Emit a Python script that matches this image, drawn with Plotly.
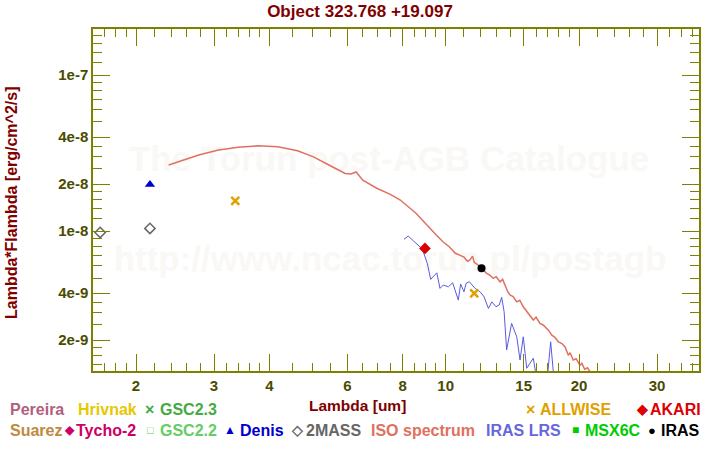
import plotly.graph_objects as go

# ISO spectrum (um, erg/cm^2/s)
iso_wl = [2.37, 2.50, 2.77, 3.07, 3.40, 3.77, 4.18, 4.63, 5.03, 5.45, 5.93, 6.11, 6.28, 6.50,
          6.99, 7.50, 7.90, 8.57, 9.12, 9.50, 9.86, 10.2, 10.5, 10.8, 11.0, 11.2, 11.35, 11.5,
          11.6, 11.8, 12.05, 12.2, 12.38, 12.6, 12.81, 13.0, 13.27, 13.45, 13.61, 13.8, 13.97,
          14.2, 14.47, 14.7, 14.97, 15.2, 15.50, 15.77, 16.0, 16.33, 16.6, 16.90, 17.1, 17.36,
          17.6, 17.97, 18.3, 18.60, 18.92, 19.1, 19.41, 19.7, 20.1, 20.3, 20.6, 20.9, 21.2]
iso_f = [2.65e-8, 2.78e-8, 3.07e-8, 3.31e-8, 3.44e-8, 3.52e-8, 3.47e-8, 3.27e-8, 2.99e-8,
         2.65e-8, 2.34e-8, 2.32e-8, 2.39e-8, 2.12e-8, 1.88e-8, 1.72e-8, 1.58e-8, 1.30e-8,
         1.066e-8, 9.5e-9, 8.54e-9, 7.9e-9, 7.23e-9, 7.0e-9, 6.8e-9, 6.4e-9, 6.52e-9, 6.9e-9,
         6.3e-9, 6.1e-9, 5.77e-9, 5.6e-9, 5.36e-9, 5.2e-9, 4.97e-9, 5.1e-9, 4.73e-9, 4.9e-9,
         4.51e-9, 4.1e-9, 3.89e-9, 3.8e-9, 3.52e-9, 3.6e-9, 3.27e-9, 3.1e-9, 2.90e-9, 2.69e-9,
         2.8e-9, 2.56e-9, 2.5e-9, 2.38e-9, 2.3e-9, 2.15e-9, 2.1e-9, 1.95e-9, 1.9e-9, 1.81e-9,
         1.60e-9, 1.66e-9, 1.49e-9, 1.52e-9, 1.38e-9, 1.42e-9, 1.30e-9, 1.33e-9, 1.25e-9]

# IRAS LRS
lrs_wl = [8.05, 8.23, 8.45, 8.75, 8.90, 9.09, 9.25, 9.55, 9.71, 9.88, 10.14, 10.37, 10.68,
          10.81, 11.0, 11.12, 11.31, 11.65, 11.96, 12.21, 12.49, 12.71, 12.99, 13.21, 13.38,
          13.55, 13.73, 14.09, 14.47, 14.72, 14.97, 15.24, 15.77, 16.07, 16.94, 17.26, 17.57]
lrs_f = [8.85e-9, 9.29e-9, 8.67e-9, 7.93e-9, 7.37e-9, 6.21e-9, 4.90e-9, 5.40e-9, 4.29e-9,
         4.51e-9, 4.39e-9, 4.66e-9, 3.61e-9, 4.57e-9, 4.08e-9, 4.62e-9, 4.73e-9, 4.29e-9,
         4.08e-9, 3.79e-9, 3.19e-9, 3.52e-9, 3.27e-9, 3.36e-9, 3.76e-9, 3.04e-9, 1.73e-9,
         2.56e-9, 2.10e-9, 1.49e-9, 2.10e-9, 1.32e-9, 1.53e-9, 1.1e-9, 1.1e-9, 1.95e-9, 1.1e-9]

# photometry
mass_wl = [1.66, 2.15]
mass_f = [0.98e-8, 1.04e-8]
denis_wl = [2.15]
denis_f = [1.99e-8]
allwise_wl = [3.35, 11.6]
allwise_f = [1.56e-8, 3.99e-9]
akari_wl = [8.98]
akari_f = [7.74e-9]
iras_wl = [12.05]
iras_f = [5.77e-9]

xtick_vals = [2, 3, 4, 6, 8, 10, 15, 20, 30]
xminor_vals = [1.6, 1.7, 1.8, 1.9, 2.2, 2.4, 2.6, 2.8, 3.2, 3.4, 3.6, 3.8, 4.5, 5, 5.5, 6.5,
               7, 7.5, 8.5, 9, 9.5, 11, 12, 13, 14, 16, 17, 18, 19, 22, 24, 26, 28, 32, 34, 36]
ytick_vals = [1e-7, 4e-8, 2e-8, 1e-8, 4e-9, 2e-9]
ytick_text = ['1e-7', '4e-8', '2e-8', '1e-8', '4e-9', '2e-9']
yminor_vals = [1.2e-7, 1.4e-7, 1.6e-7, 1.8e-7, 5e-8, 6e-8, 7e-8, 8e-8, 9e-8, 2.5e-8, 3e-8,
               3.5e-8, 1.2e-8, 1.4e-8, 1.6e-8, 1.8e-8, 5e-9, 6e-9, 7e-9, 8e-9, 9e-9, 2.5e-9,
               3e-9, 3.5e-9, 1.4e-9, 1.6e-9, 1.8e-9]

# background watermark lines
wm_text = ['The Torun post-AGB Catalogue', 'http://www.ncac.torun.pl/postagb']
wm_wl = [7.45, 7.49]
wm_f = [2.77e-8, 6.33e-9]

# legend labels
legend_names = ['Pereira', 'Hrivnak', 'GSC2.3', 'ALLWISE', 'AKARI',
                'Suarez', 'Tycho-2', 'GSC2.2', 'Denis', '2MASS', 'ISO spectrum', 'IRAS LRS',
                'MSX6C', 'IRAS']
legend_symbols = ['', '', '×', '×', '◆', '', '◆', '□', '▲', '◇', '', '', '■', '●']
legend_colors = ['#b06080', '#e6c800', '#44aa44', '#e0a000', '#dd0000',
                 '#c08840', '#cc0066', '#66cc66', '#0000cc', '#666666', '#e07060', '#6666dd',
                 '#00cc00', '#000000']
# (symbol centre x, text left x, row y, symbol size) in page pixels
legend_pos = [(None, 8, 409, 0), (None, 76, 409, 0), (149, 158, 409, 16), (530, 538, 409, 16),
              (642, 648, 409, 14), (None, 8, 430, 0), (69, 74, 430, 12), (150, 158, 430, 11),
              (230, 238, 430, 12), (297, 304, 430, 14), (None, 369, 430, 0), (None, 484, 430, 0),
              (575, 583, 430, 12), (652, 659, 430, 13)]

FONT = "Liberation Sans, Arial, sans-serif"
OLIVE = '#808000'

fig = go.Figure()
# watermark first so it sits under the data
fig.add_trace(go.Scatter(x=wm_wl, y=wm_f, mode='text', text=wm_text, hoverinfo='skip',
                         textfont=dict(family=FONT, size=35, color='#faf8f5', weight='bold')))
fig.add_trace(go.Scatter(x=iso_wl, y=iso_f, mode='lines', line=dict(color='#e07060', width=1.5)))
fig.add_trace(go.Scatter(x=lrs_wl, y=lrs_f, mode='lines', line=dict(color='#5a5ae0', width=1)))
fig.add_trace(go.Scatter(x=mass_wl, y=mass_f, mode='markers',
                         marker=dict(symbol='diamond-open', size=8, color='#666666', line=dict(width=1.5))))
fig.add_trace(go.Scatter(x=denis_wl, y=denis_f, mode='markers',
                         marker=dict(symbol='triangle-up', size=9, color='#0000cc')))
fig.add_trace(go.Scatter(x=allwise_wl, y=allwise_f, mode='markers',
                         marker=dict(symbol='x-thin-open', size=8, color='#e0a000', line=dict(width=2.5, color='#e0a000'))))
fig.add_trace(go.Scatter(x=akari_wl, y=akari_f, mode='markers',
                         marker=dict(symbol='diamond', size=9, color='#dd0000')))
fig.add_trace(go.Scatter(x=iras_wl, y=iras_f, mode='markers',
                         marker=dict(symbol='circle', size=8, color='#000000')))

axis_common = dict(type='log', showline=True, linecolor=OLIVE, linewidth=1.5, mirror='ticks',
                   ticks='inside', ticklen=17, tickwidth=1, tickcolor=OLIVE, showgrid=False,
                   zeroline=False, tickmode='array',
                   tickfont=dict(family=FONT, size=15, color='#4b4b00', weight='bold'))

fig.update_xaxes(range=[0.2039, 1.5719], tickvals=xtick_vals, ticktext=[str(v) for v in xtick_vals],
                 minor=dict(tickmode='array', tickvals=xminor_vals, ticks='inside', ticklen=8,
                            tickwidth=1, tickcolor=OLIVE),
                 **axis_common)
fig.update_yaxes(range=[-8.897, -6.705], tickvals=ytick_vals, ticktext=ytick_text,
                 minor=dict(tickmode='array', tickvals=yminor_vals, ticks='inside', ticklen=9,
                            tickwidth=1, tickcolor=OLIVE),
                 **axis_common)

annotations = [
    dict(text='Lambda [um]', x=357, y=405, font=dict(size=15.5, color='#800000')),
    dict(text='Lambda*Flambda [erg/cm^2/s]', x=11, y=203, textangle=-90,
         font=dict(size=16, color='#800000')),
]
for name, sym, col, (sx, tx, ty, ss) in zip(legend_names, legend_symbols, legend_colors, legend_pos):
    if sym:
        annotations.append(dict(text=sym, x=sx, y=ty, font=dict(size=ss, color=col)))
    annotations.append(dict(text=name, x=tx, y=ty, xanchor='left', font=dict(size=16, color=col)))

# page pixel positions -> paper coordinates of the plot frame (93..699, 29..371)
for a in annotations:
    a.setdefault('xanchor', 'center')
    a.update(xref='paper', yref='paper', showarrow=False, yanchor='middle')
    a['x'] = (a['x'] - 93) / (699 - 93)
    a['y'] = (371 - a['y']) / (371 - 29)
    a['font']['family'] = FONT
    a['font']['weight'] = 'bold'

fig.update_layout(
    width=720, height=450,
    margin=dict(l=93, r=21, t=29, b=79),
    paper_bgcolor='white', plot_bgcolor='white',
    showlegend=False,
    title=dict(text='Object 323.768 +19.097', x=(360 - 93) / (699 - 93), xref='paper', xanchor='center',
               y=1 - 11 / 450, yanchor='middle', yref='container',
               font=dict(family=FONT, size=17, color='#800000', weight='bold')),
    annotations=annotations,
)

# the page's default body margin would push the chart 8px off
fig.write_html("out.html", config={'displayModeBar': False},
               post_script="document.body.style.margin='0';")
